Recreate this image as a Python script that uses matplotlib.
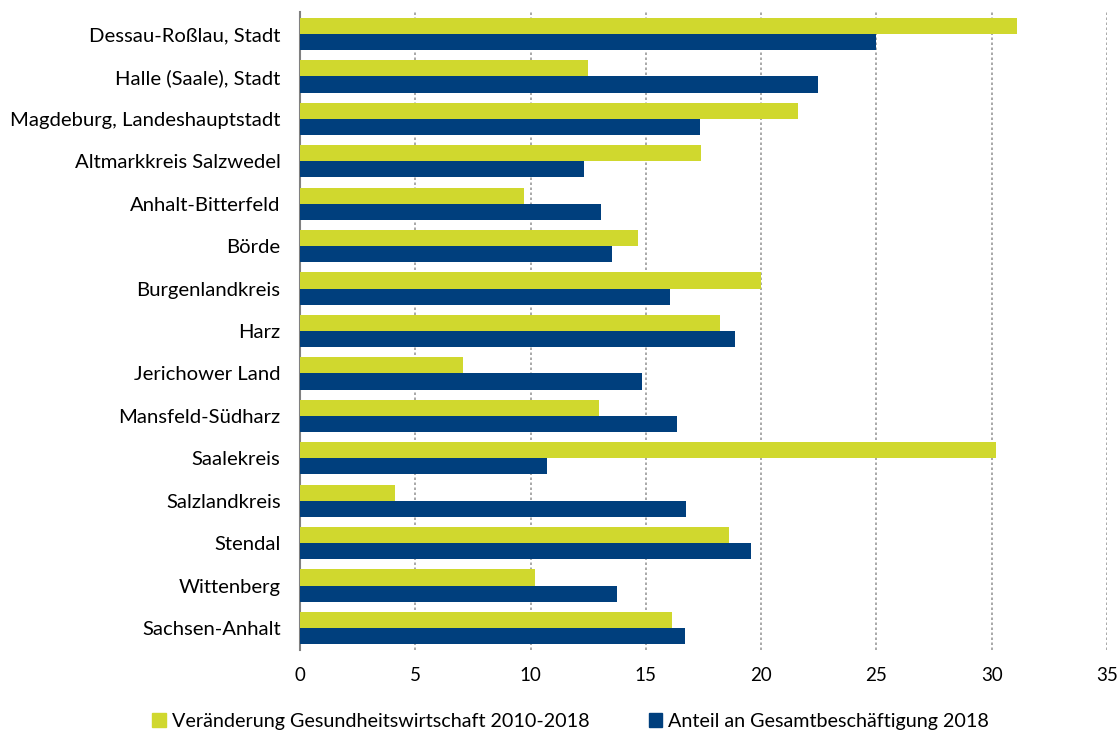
import numpy as np
import matplotlib
matplotlib.use("Agg")
import matplotlib.pyplot as plt
from matplotlib.patches import Patch

plt.rcParams['font.family'] = ['Lato', 'DejaVu Sans']

regions = ['Dessau-Roßlau, Stadt', 'Halle (Saale), Stadt', 'Magdeburg, Landeshauptstadt',
           'Altmarkkreis Salzwedel', 'Anhalt-Bitterfeld', 'Börde', 'Burgenlandkreis', 'Harz',
           'Jerichower Land', 'Mansfeld-Südharz', 'Saalekreis', 'Salzlandkreis', 'Stendal',
           'Wittenberg', 'Sachsen-Anhalt']
veraenderung = [31.1, 12.5, 21.6, 17.4, 9.7, 14.65, 20.0, 18.2, 7.05, 12.95, 30.2, 4.1, 18.6, 10.2, 16.15]
anteil = [25.0, 22.45, 17.35, 12.3, 13.05, 13.55, 16.05, 18.85, 14.85, 16.35, 10.7, 16.75, 19.55, 13.75, 16.7]
label_v = 'Veränderung Gesundheitswirtschaft 2010-2018'
label_a = 'Anteil an Gesamtbeschäftigung 2018'

green = '#D0D82E'
blue = '#003F7D'

fig = plt.figure(figsize=(11.19, 7.37), dpi=100)
ax = fig.add_axes([300/1119, 1 - 650/737, (1107-300)/1119, (650-12)/737])

y = np.arange(len(regions))
h = 0.38
ax.barh(y - h/2, veraenderung, height=h, color=green, zorder=3)
ax.barh(y + h/2, anteil, height=h, color=blue, zorder=3)

ax.set_ylim(len(regions) - 0.5 + 0.02, -0.5 - 0.02)
ax.set_xlim(0, 35)
ax.set_xticks(np.arange(0, 36, 5))
ax.set_yticks(y)
ax.set_yticklabels(regions, fontsize=14.6)
ax.tick_params(axis='x', labelsize=13.5, length=0, pad=12)
ax.tick_params(axis='y', length=0, pad=14)
ax.grid(axis='x', linestyle=(0, (1.5, 1.5)), color='#999999', linewidth=1.2, zorder=0)
for s in ['top', 'right', 'bottom']:
    ax.spines[s].set_visible(False)
ax.spines['left'].set_color('#808080')
ax.spines['left'].set_linewidth(1.5)

handles = [Patch(color=green, label=label_v), Patch(color=blue, label=label_a)]
fig.legend(handles=handles, loc='lower center', ncol=2, frameon=False, fontsize=14.2,
           bbox_to_anchor=(0.51, -0.014), handlelength=0.7, handleheight=0.7,
           handletextpad=0.3, columnspacing=3.0)

fig.savefig('out.png', dpi=100)
